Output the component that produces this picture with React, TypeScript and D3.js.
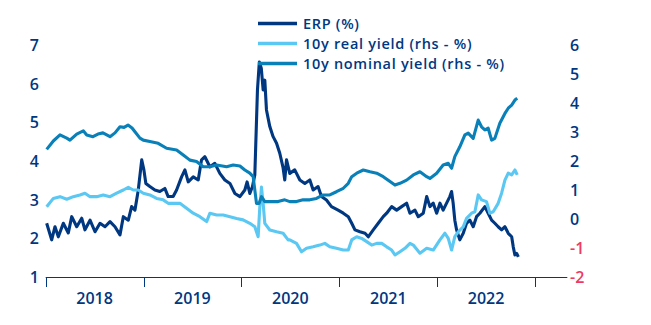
import React from "react";
import * as d3 from "d3";

// [decimal year, value]
const erpSeries: [number, number][] = [
  [2018.01, 2.39], [2018.061, 1.96], [2018.095, 2.3], [2018.129, 2.04], [2018.18, 2.39], [2018.231, 2.14],
  [2018.266, 2.56], [2018.317, 2.3], [2018.368, 2.52], [2018.401, 2.22], [2018.453, 2.47], [2018.504, 2.17],
  [2018.555, 2.39], [2018.606, 2.3], [2018.657, 2.43], [2018.708, 2.3], [2018.759, 2.09], [2018.793, 2.56],
  [2018.844, 2.47], [2018.878, 2.82], [2018.912, 2.73], [2018.946, 3.25], [2018.981, 4.03], [2019.004, 3.77],
  [2019.024, 3.42], [2019.065, 3.34], [2019.116, 3.25], [2019.167, 3.21], [2019.218, 3.29], [2019.252, 3.08],
  [2019.303, 3.08], [2019.338, 3.25], [2019.389, 3.59], [2019.423, 3.77], [2019.457, 3.46], [2019.508, 3.59],
  [2019.559, 3.51], [2019.593, 4.03], [2019.627, 4.11], [2019.678, 3.85], [2019.729, 3.94], [2019.78, 3.68],
  [2019.831, 3.51], [2019.883, 3.42], [2019.934, 3.16], [2019.985, 3.08], [2020.036, 3.25], [2020.059, 3.46],
  [2020.087, 3.16], [2020.114, 3.34], [2020.138, 3.64], [2020.165, 5.84], [2020.184, 6.56], [2020.204, 6.4],
  [2020.223, 5.84], [2020.24, 6.09], [2020.257, 5.32], [2020.291, 4.89], [2020.325, 4.63], [2020.36, 4.46],
  [2020.393, 4.2], [2020.427, 3.82], [2020.444, 3.51], [2020.462, 4.03], [2020.495, 3.68], [2020.546, 3.77],
  [2020.598, 3.51], [2020.649, 3.42], [2020.7, 3.51], [2020.734, 3.25], [2020.784, 3.34], [2020.819, 3.08],
  [2020.87, 2.99], [2020.921, 2.82], [2020.989, 2.73], [2021.04, 2.65], [2021.091, 2.56], [2021.126, 2.39],
  [2021.159, 2.22], [2021.21, 2.17], [2021.262, 2.13], [2021.295, 2.04], [2021.346, 2.22], [2021.397, 2.39],
  [2021.448, 2.56], [2021.483, 2.65], [2021.534, 2.82], [2021.585, 2.73], [2021.636, 2.82], [2021.687, 2.91],
  [2021.721, 2.65], [2021.772, 2.73], [2021.806, 2.56], [2021.857, 2.65], [2021.892, 3.08], [2021.925, 2.82],
  [2021.959, 2.91], [2021.994, 2.65], [2022.028, 2.91], [2022.061, 2.73], [2022.096, 2.91], [2022.129, 3.08],
  [2022.147, 3.21], [2022.163, 2.91], [2022.18, 2.47], [2022.198, 2.22], [2022.231, 1.96], [2022.266, 2.13],
  [2022.3, 2.39], [2022.334, 2.47], [2022.368, 2.3], [2022.402, 2.56], [2022.436, 2.65], [2022.487, 2.82],
  [2022.521, 2.65], [2022.556, 2.47], [2022.589, 2.39], [2022.623, 2.3], [2022.658, 2.22], [2022.692, 2.3],
  [2022.726, 2.13], [2022.761, 2.04], [2022.777, 1.78], [2022.794, 1.57], [2022.812, 1.61], [2022.829, 1.52],
];

const realYieldSeries: [number, number][] = [
  [2018.01, 0.42], [2018.078, 0.71], [2018.146, 0.77], [2018.215, 0.68], [2018.282, 0.77], [2018.35, 0.83],
  [2018.401, 0.89], [2018.453, 0.77], [2018.521, 0.77], [2018.588, 0.83], [2018.657, 0.77], [2018.725, 0.89],
  [2018.793, 1.0], [2018.844, 1.09], [2018.895, 1.0], [2018.946, 1.0], [2018.997, 0.89], [2019.065, 0.83],
  [2019.134, 0.71], [2019.201, 0.66], [2019.252, 0.54], [2019.303, 0.54], [2019.372, 0.54], [2019.44, 0.37],
  [2019.508, 0.2], [2019.576, 0.08], [2019.645, -0.09], [2019.678, 0.2], [2019.747, 0.14], [2019.814, 0.14],
  [2019.883, 0.08], [2019.951, 0.02], [2020.018, -0.03], [2020.087, -0.15], [2020.138, -0.27], [2020.172, -0.61],
  [2020.189, 0.42], [2020.206, 1.1], [2020.223, 0.54], [2020.24, -0.15], [2020.291, -0.38], [2020.36, -0.44],
  [2020.427, -0.49], [2020.478, -0.72], [2020.495, -0.72], [2020.564, -0.84], [2020.615, -1.13], [2020.666, -1.01],
  [2020.734, -0.96], [2020.802, -0.9], [2020.853, -0.84], [2020.904, -0.96], [2020.972, -1.01], [2021.04, -1.07],
  [2021.091, -1.07], [2021.126, -0.72], [2021.177, -0.61], [2021.228, -0.67], [2021.279, -0.78], [2021.33, -0.9],
  [2021.381, -0.84], [2021.432, -0.84], [2021.483, -0.96], [2021.534, -1.07], [2021.568, -1.24], [2021.619, -1.13],
  [2021.67, -1.01], [2021.721, -0.84], [2021.755, -0.9], [2021.823, -1.18], [2021.892, -1.01], [2021.959, -1.07],
  [2022.028, -0.72], [2022.079, -0.49], [2022.113, -0.67], [2022.147, -1.07], [2022.18, -0.61], [2022.215, -0.44],
  [2022.266, -0.27], [2022.3, 0.02], [2022.351, 0.2], [2022.385, 0.25], [2022.419, 0.83], [2022.453, 0.66],
  [2022.504, 0.6], [2022.538, 0.2], [2022.572, 0.25], [2022.623, 0.54], [2022.658, 0.89], [2022.692, 1.34],
  [2022.726, 1.58], [2022.761, 1.52], [2022.794, 1.69], [2022.818, 1.52],
];

const nominalYieldSeries: [number, number][] = [
  [2018.01, 2.4], [2018.078, 2.69], [2018.146, 2.9], [2018.215, 2.79], [2018.248, 2.72], [2018.317, 2.93],
  [2018.384, 3.04], [2018.419, 2.9], [2018.483, 2.84], [2018.534, 2.93], [2018.585, 2.97], [2018.657, 2.84],
  [2018.708, 2.97], [2018.759, 3.18], [2018.8, 3.16], [2018.841, 3.24], [2018.882, 3.14], [2018.912, 3.01],
  [2018.963, 2.79], [2018.997, 2.72], [2019.065, 2.67], [2019.15, 2.61], [2019.236, 2.44], [2019.338, 2.38],
  [2019.406, 2.21], [2019.474, 2.03], [2019.542, 1.98], [2019.61, 1.8], [2019.678, 1.8], [2019.747, 1.86],
  [2019.849, 1.8], [2019.916, 1.86], [2019.985, 1.83], [2020.036, 1.69], [2020.087, 1.58], [2020.121, 1.46],
  [2020.155, 0.54], [2020.182, 0.54], [2020.206, 0.77], [2020.24, 0.6], [2020.308, 0.6], [2020.376, 0.6],
  [2020.444, 0.66], [2020.495, 0.6], [2020.564, 0.6], [2020.631, 0.66], [2020.7, 0.66], [2020.768, 0.71],
  [2020.836, 0.83], [2020.904, 0.83], [2020.972, 0.94], [2021.04, 1.06], [2021.091, 1.23], [2021.126, 1.46],
  [2021.177, 1.58], [2021.244, 1.69], [2021.313, 1.63], [2021.381, 1.58], [2021.448, 1.46], [2021.517, 1.29],
  [2021.568, 1.17], [2021.619, 1.23], [2021.687, 1.34], [2021.755, 1.52], [2021.823, 1.63], [2021.892, 1.46],
  [2021.925, 1.4], [2021.994, 1.58], [2022.061, 1.86], [2022.113, 1.92], [2022.147, 1.75], [2022.18, 2.15],
  [2022.231, 2.49], [2022.283, 2.9], [2022.317, 2.96], [2022.368, 2.78], [2022.419, 3.41], [2022.453, 3.18],
  [2022.487, 3.07], [2022.521, 3.13], [2022.556, 2.72], [2022.589, 2.78], [2022.64, 3.3], [2022.692, 3.64],
  [2022.726, 3.82], [2022.761, 3.93], [2022.794, 4.1], [2022.818, 4.16],
];

const leftTicks = [1, 2, 3, 4, 5, 6, 7];
const rightTicks = [-2, -1, 0, 1, 2, 3, 4, 5, 6];
const yearTicks = [2018, 2019, 2020, 2021, 2022, 2023];
const yearLabels = ["2018", "2019", "2020", "2021", "2022"];
const legendLabels = ["ERP (%)", "10y real yield (rhs - %)", "10y nominal yield (rhs - %)"];

const DARK = "#003781";
const LIGHT = "#5ac8f2";
const MID = "#0a80b9";
const RED = "#ee3a62";
const FONT = "'Open Sans', sans-serif";

const toDate = (t: number) => {
  const y = Math.floor(t);
  return new Date(Date.UTC(y, 0, 1) + (t - y) * 365.25 * 86400000);
};

export default function App() {
  const W = 651, H = 325;
  const x = d3.scaleUtc().domain([toDate(2018), toDate(2023.33)]).range([45.7, 567.3]);
  const yL = d3.scaleLinear().domain([1, 7]).range([277, 45]);
  const yR = d3.scaleLinear().domain([-2, 6]).range([277, 45]);

  const lineL = d3.line<[number, number]>().x((d) => x(toDate(d[0]))).y((d) => yL(d[1]));
  const lineR = d3.line<[number, number]>().x((d) => x(toDate(d[0]))).y((d) => yR(d[1]));

  const legendColors = [DARK, LIGHT, MID];
  const legendY = [23.5, 43.5, 63.5];

  return (
    <svg width={W} height={H} style={{ position: "absolute", left: 0, top: 0, background: "#fff" }} fontFamily={FONT} fontWeight={600}>
      <path d={lineL(erpSeries) || ""} fill="none" stroke={DARK} strokeWidth={3.1} strokeLinejoin="round" />
      <path d={lineR(realYieldSeries) || ""} fill="none" stroke={LIGHT} strokeWidth={3.1} strokeLinejoin="round" />
      <path d={lineR(nominalYieldSeries) || ""} fill="none" stroke={MID} strokeWidth={3.1} strokeLinejoin="round" />

      {/* x axis */}
      <line x1={x(toDate(2018))} x2={x(toDate(2023.33))} y1={277.5} y2={277.5} stroke={DARK} strokeWidth={1} />
      {yearTicks.map((yr) => (
        <line key={yr} x1={Math.round(x(toDate(yr))) + 0.5} x2={Math.round(x(toDate(yr))) + 0.5} y1={277} y2={287} stroke={DARK} strokeWidth={1} />
      ))}
      {yearLabels.map((lab, i) => (
        <text key={lab} x={(x(toDate(2018 + i)) + x(toDate(2019 + i))) / 2} y={298} textAnchor="middle" dominantBaseline="central" fill={DARK} fontSize={16}>
          {lab}
        </text>
      ))}

      {leftTicks.map((v) => (
        <text key={v} x={39} y={yL(v)} textAnchor="end" dominantBaseline="central" fill={DARK} fontSize={16}>
          {v}
        </text>
      ))}
      {rightTicks.map((v) => (
        <text key={v} x={570} y={yR(v)} textAnchor="start" dominantBaseline="central" fill={v < 0 ? RED : DARK} fontSize={16}>
          {v}
        </text>
      ))}

      {legendLabels.map((lab, i) => (
        <g key={lab}>
          <line x1={258} x2={297} y1={legendY[i]} y2={legendY[i]} stroke={legendColors[i]} strokeWidth={3.5} />
          <text x={303} y={legendY[i]} dominantBaseline="central" fill={DARK} fontSize={14.5} letterSpacing={0.7}>
            {lab}
          </text>
        </g>
      ))}
    </svg>
  );
}
